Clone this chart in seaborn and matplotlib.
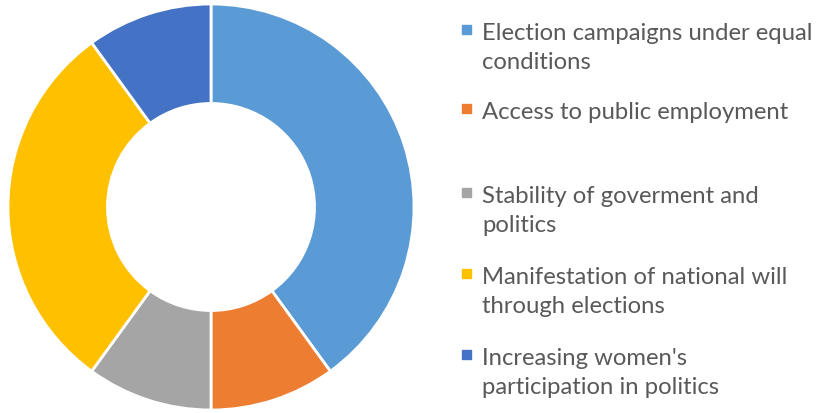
import matplotlib
matplotlib.use("Agg")
import matplotlib.pyplot as plt
import seaborn as sns

# Chart data
labels = [
    "Election campaigns under equal\nconditions",
    "Access to public employment",
    "Stability of goverment and\npolitics",
    "Manifestation of national will\nthrough elections",
    "Increasing women's\nparticipation in politics",
]
shares = [40, 10, 10, 30, 10]
colors = ["#5B9BD5", "#ED7D31", "#A5A5A5", "#FFC000", "#4472C4"]


def main():
    sns.set_style("white")
    plt.rcParams["font.family"] = ["Lato", "DejaVu Sans"]
    palette = sns.color_palette(colors)

    W, H = 818, 414
    fig = plt.figure(figsize=(W / 100, H / 100), dpi=100)

    # Donut
    cx, cy, r = 211, 208, 203
    ax = fig.add_axes([(cx - r) / W, (H - cy - r) / H, 2 * r / W, 2 * r / H])
    ax.pie(shares, colors=palette, startangle=90, counterclock=False, radius=1,
           wedgeprops=dict(width=0.49, edgecolor="white", linewidth=2))
    ax.set_xlim(-1, 1)
    ax.set_ylim(-1, 1)
    ax.set_aspect("equal")
    ax.axis("off")

    # Legend, drawn by hand so markers line up with the first text line
    baselines = [40, 119, 203, 284, 365]
    line_h = 29
    for lab, col, yb in zip(labels, palette, baselines):
        fig.patches.append(plt.Rectangle((462 / W, 1 - (yb - 5) / H), 9 / W, 9 / H,
                                         transform=fig.transFigure, color=col))
        for i, line in enumerate(lab.split("\n")):
            fig.text(482 / W, 1 - (yb + i * line_h) / H, line, ha="left",
                     va="baseline", fontsize=17.2, color="#595959")

    fig.savefig("out.png", dpi=100, facecolor="white")


if __name__ == "__main__":
    main()
